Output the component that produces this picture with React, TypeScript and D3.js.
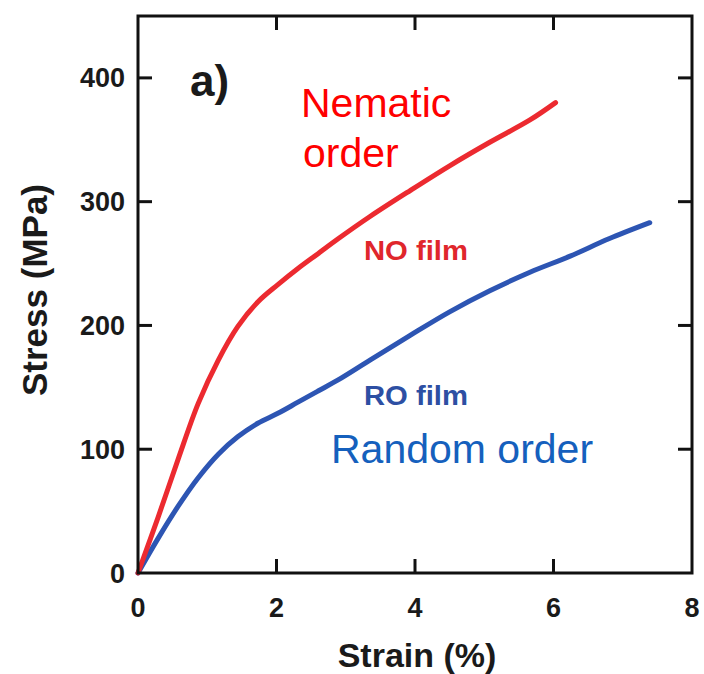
import React from "react";
import * as d3 from "d3";

const strainNO = [0, 0.29, 0.58, 0.87, 1.16, 1.44, 1.73, 2.02, 2.31, 2.6, 2.89, 3.35, 3.93, 4.5, 5.08, 5.66, 6.03];
const stressNO = [0, 45, 92, 137, 172, 199, 219, 233, 246, 258, 270, 288, 309, 329, 348, 366, 380];
const strainRO = [0, 0.29, 0.58, 0.87, 1.16, 1.44, 1.73, 2.02, 2.31, 2.6, 2.89, 3.35, 3.93, 4.5, 5.08, 5.66, 6.24, 6.8, 7.39];
const stressRO = [0, 28, 54, 77, 96, 110, 121, 129, 138, 147, 156, 172, 192, 211, 228, 243, 256, 270, 283];
const xTicks = [0, 2, 4, 6, 8];
const yTicks = [0, 100, 200, 300, 400];

const W = 704, H = 674;
const L = 138, R = 692, T = 16, B = 573;
const FONT = "'Liberation Sans', Arial, Helvetica, sans-serif";

export default function App() {
  const x = d3.scaleLinear().domain([0, 8]).range([L, R]);
  const y = d3.scaleLinear().domain([0, 450]).range([B, T]);
  const line = d3
    .line<[number, number]>()
    .x((d) => x(d[0]))
    .y((d) => y(d[1]))
    .curve(d3.curveCatmullRom.alpha(0.5));
  const no = strainNO.map((s, i) => [s, stressNO[i]] as [number, number]);
  const ro = strainRO.map((s, i) => [s, stressRO[i]] as [number, number]);
  const tickLen = 14;
  return (
    <svg
      width={W}
      height={H}
      style={{ position: "absolute", left: 0, top: 0, background: "#fff" }}
      fontFamily={FONT}
    >
      <rect x={0} y={0} width={W} height={H} fill="#fff" />
      <path d={line(ro) || ""} fill="none" stroke="#2d55b3" strokeWidth={5} strokeLinecap="round" />
      <path d={line(no) || ""} fill="none" stroke="#ec2a30" strokeWidth={5} strokeLinecap="round" />
      <rect x={L} y={T} width={R - L} height={B - T} fill="none" stroke="#111" strokeWidth={3} />
      {xTicks.filter((t) => t > 0 && t < 8).map((t) => (
        <g key={"xt" + t}>
          <line x1={x(t)} x2={x(t)} y1={B} y2={B - tickLen} stroke="#111" strokeWidth={3} />
          <line x1={x(t)} x2={x(t)} y1={T} y2={T + tickLen} stroke="#111" strokeWidth={3} />
        </g>
      ))}
      {yTicks.filter((t) => t > 0).map((t) => (
        <g key={"yt" + t}>
          <line x1={L} x2={L + tickLen} y1={y(t)} y2={y(t)} stroke="#111" strokeWidth={3} />
          <line x1={R} x2={R - tickLen} y1={y(t)} y2={y(t)} stroke="#111" strokeWidth={3} />
        </g>
      ))}
      {xTicks.map((t) => (
        <text key={"xl" + t} x={x(t)} y={617} textAnchor="middle" fontSize={27} fontWeight="bold" fill="#1a1a1a">
          {t}
        </text>
      ))}
      {yTicks.map((t) => (
        <text key={"yl" + t} x={125} y={y(t) + 9.5} textAnchor="end" fontSize={27} fontWeight="bold" fill="#1a1a1a">
          {t}
        </text>
      ))}
      <text x={417} y={667} textAnchor="middle" fontSize={34} fontWeight="bold" fill="#1a1a1a">
        Strain (%)
      </text>
      <text
        transform={`translate(47,290) rotate(-90)`}
        textAnchor="middle"
        fontSize={35}
        fontWeight="bold"
        fill="#1a1a1a"
      >
        Stress (MPa)
      </text>
      <text x={190} y={96} fontSize={44} fontWeight="bold" fill="#1a1a1a">
        a)
      </text>
      <text x={301} y={117} fontSize={41} fill="#ff0000">
        Nematic
      </text>
      <text x={303} y={167} fontSize={41} fill="#ff0000">
        order
      </text>
      <text x={364} y={260} fontSize={27} fontWeight="bold" fill="#e0262c" textLength={104} lengthAdjust="spacingAndGlyphs">
        NO film
      </text>
      <text x={364} y={405} fontSize={27} fontWeight="bold" fill="#2d4fa3" textLength={104} lengthAdjust="spacingAndGlyphs">
        RO film
      </text>
      <text x={331} y={463} fontSize={41} fill="#1560bd">
        Random order
      </text>
    </svg>
  );
}
